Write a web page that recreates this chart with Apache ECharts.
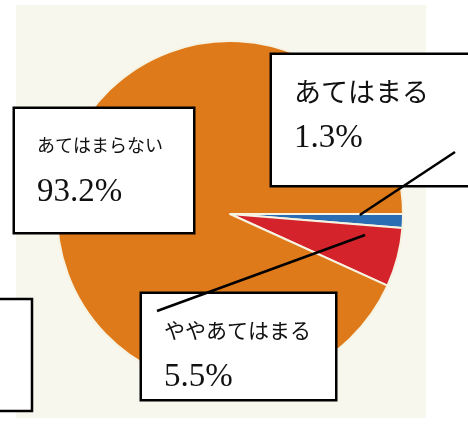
<!DOCTYPE html>
<html><head><meta charset="utf-8">
<script src="https://cdn.jsdelivr.net/npm/echarts@6/dist/echarts.min.js"></script>
<style>html,body{margin:0;padding:0;background:#fff}#c{width:468px;height:432px}</style>
</head><body><div id="c"></div>
<script>
// ---- data ----
const categories = ['あてはまる', 'ややあてはまる', 'あてはまらない'];
const values = [1.3, 5.5, 93.2];
const colors = ['#2a6db3', '#d5232c', '#df7a1a'];

// ---- layout / style ----
const CENTER = [230, 214], RADIUS = 173, START = 0;
const KANA = '"Noto Sans CJK JP", sans-serif';
const DIGIT = '"Liberation Serif", "Noto Sans CJK JP", serif';
const boxes = [
  {x: 272, y: 55,  w: 200, h: 130, nameSize: 27, valSize: 33, lineEnd: [455, 152], t: 0.1,  rf: 0.75},
  {x: 142, y: 294, w: 193, h: 105, nameSize: 21, valSize: 33, lineEnd: [157, 311], t: 0.21, rf: 0.79},
  {x: 15,  y: 109, w: 178, h: 123, nameSize: 18, valSize: 33, lineEnd: null}
];
const PAD_T = 13, PAD_L = 22;

const total = values.reduce((a, b) => a + b, 0);
const cum = values.map((v, i) => values.slice(0, i).reduce((a, b) => a + b, 0));

// point inside slice i, derived from its data angle
function innerPoint(i) {
  const b = boxes[i];
  const ang = (START + (cum[i] + values[i] * b.t) / total * 360) * Math.PI / 180;
  const r = RADIUS * b.rf;
  return [CENTER[0] + r * Math.cos(ang), CENTER[1] + r * Math.sin(ang)];
}

const data = categories.map((name, i) => {
  const b = boxes[i];
  return {
    name: name,
    value: values[i],
    itemStyle: {color: colors[i]},
    label: {
      width: b.w - PAD_L,
      height: b.h - PAD_T,
      padding: [PAD_T, 0, 0, PAD_L],
      backgroundColor: '#ffffff',
      borderColor: '#000000',
      borderWidth: 2.5,
      rich: {
        n: {fontSize: b.nameSize, lineHeight: 47, fontFamily: KANA, color: '#111'},
        v: {fontSize: b.valSize, lineHeight: 47, fontFamily: DIGIT, color: '#111'}
      }
    }
  };
});

const leaderLines = boxes.map((b, i) => b.lineEnd ? {
  type: 'line', z: 200, silent: true,
  shape: {x1: innerPoint(i)[0], y1: innerPoint(i)[1], x2: b.lineEnd[0], y2: b.lineEnd[1]},
  style: {stroke: '#000', lineWidth: 2.5}
} : null).filter(Boolean);

const chart = echarts.init(document.getElementById('c'), null, {renderer: 'canvas'});
chart.setOption({
  backgroundColor: '#ffffff',
  animation: false,
  graphic: [
    {type: 'rect', z: -10, silent: true, shape: {x: 16, y: 5, width: 410, height: 413}, style: {fill: '#f7f7ee'}},
    {type: 'rect', z: 100, silent: true, shape: {x: -5, y: 299, width: 37, height: 112}, style: {fill: '#ffffff', stroke: '#000', lineWidth: 2.5}}
  ].concat(leaderLines),
  series: [{
    type: 'pie',
    center: CENTER,
    radius: RADIUS,
    startAngle: START,
    clockwise: true,
    avoidLabelOverlap: false,
    itemStyle: {borderColor: '#f7f3e2', borderWidth: 2},
    label: {
      show: true,
      position: 'outside',
      formatter: '{n|{b}}\n{v|{c}%}'
    },
    labelLine: {show: false},
    labelLayout: function (params) {
      const b = boxes[params.dataIndex];
      return {x: b.x, y: b.y, align: 'left', verticalAlign: 'top'};
    },
    data: data
  }]
});
</script></body></html>
